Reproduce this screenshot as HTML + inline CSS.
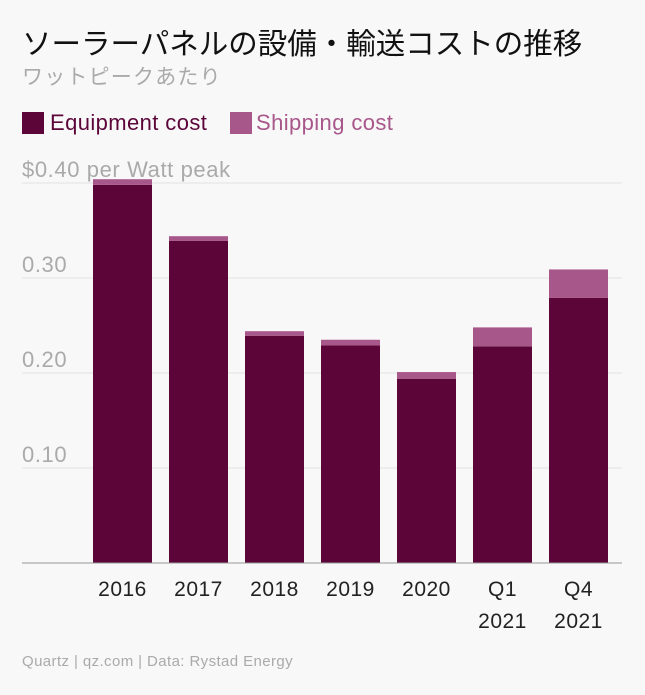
<!DOCTYPE html>
<html><head><meta charset="utf-8">
<style>
body{margin:0;background:#f8f8f8;font-family:"Liberation Sans","Noto Sans CJK JP",sans-serif;}
#wrap{position:relative;width:645px;height:695px;overflow:hidden;background:#f8f8f8;}
.t{position:absolute;white-space:nowrap;}
</style></head>
<body>
<div id="wrap">
<div class="t" style="left:22px;top:21px;font-size:29.5px;color:#111;">ソーラーパネルの設備・輸送コストの推移</div>
<div class="t" style="left:22px;top:61px;font-size:21px;letter-spacing:1.2px;color:#aaa;">ワットピークあたり</div>
<div class="t" style="left:22px;top:110px;font-size:22px;letter-spacing:0.4px;color:#5c0539;"><span style="display:inline-block;width:22px;height:22px;background:#5c0539;vertical-align:-4px;margin-right:6px;"></span>Equipment cost</div>
<div class="t" style="left:230px;top:110px;font-size:22px;letter-spacing:0.4px;color:#a8578a;"><span style="display:inline-block;width:22px;height:22px;background:#a8578a;vertical-align:-4px;margin-right:4px;"></span>Shipping cost</div>
<svg id="chart" width="645" height="695" style="position:absolute;left:0;top:0;"></svg>
<div class="t" style="left:22px;top:653px;font-size:15px;letter-spacing:0.4px;color:#aaa;">Quartz | qz.com | Data: Rystad Energy</div>
</div>
<script>
const categories=[["2016"],["2017"],["2018"],["2019"],["2020"],["Q1","2021"],["Q4","2021"]];
const equipment=[0.398,0.339,0.239,0.229,0.194,0.228,0.279];
const shipping=[0.006,0.005,0.005,0.006,0.007,0.020,0.030];
const yTicks=[0.1,0.2,0.3,0.4];
const yTickLabels=["0.10","0.20","0.30","$0.40 per Watt peak"];
const ns="http://www.w3.org/2000/svg";
const svg=document.getElementById("chart");
const y0=563,pxPer=950,left=22,right=622,x0=93,step=76,bw=59;
const y=v=>y0-v*pxPer;
const x=i=>x0+i*step;
function mk(tag,at){const e=document.createElementNS(ns,tag);for(const k in at)e.setAttribute(k,at[k]);svg.appendChild(e);return e;}
yTicks.forEach((v,i)=>{
 const g=mk("line",{x1:left,x2:right,y1:y(v),y2:y(v),stroke:"#e2e2e2","stroke-width":1});
 
 
 const t=mk("text",{x:left,y:y(v)-6,"font-size":22,"letter-spacing":0.6,fill:"#aaa","font-family":"Liberation Sans, sans-serif"});
 t.textContent=yTickLabels[i];
 
 
});
categories.forEach((c,i)=>{
 const b=mk("rect",{x:x(i),y:y(equipment[i]),width:bw,height:equipment[i]*pxPer,fill:"#5c0539"});
 
 
 const s=mk("rect",{x:x(i),y:y(equipment[i]+shipping[i]),width:bw,height:shipping[i]*pxPer,fill:"#a8578a"});
 
 
 c.forEach((ln,j)=>{
  const t=mk("text",{x:x(i)+bw/2,y:596+j*32,"font-size":21,"letter-spacing":0.5,fill:"#222","text-anchor":"middle","font-family":"Liberation Sans, sans-serif"});
  t.textContent=ln;
  
  
 });
});
const base=mk("line",{x1:left,x2:right,y1:y0,y2:y0,stroke:"#999","stroke-width":1});


</script>
</body></html>
